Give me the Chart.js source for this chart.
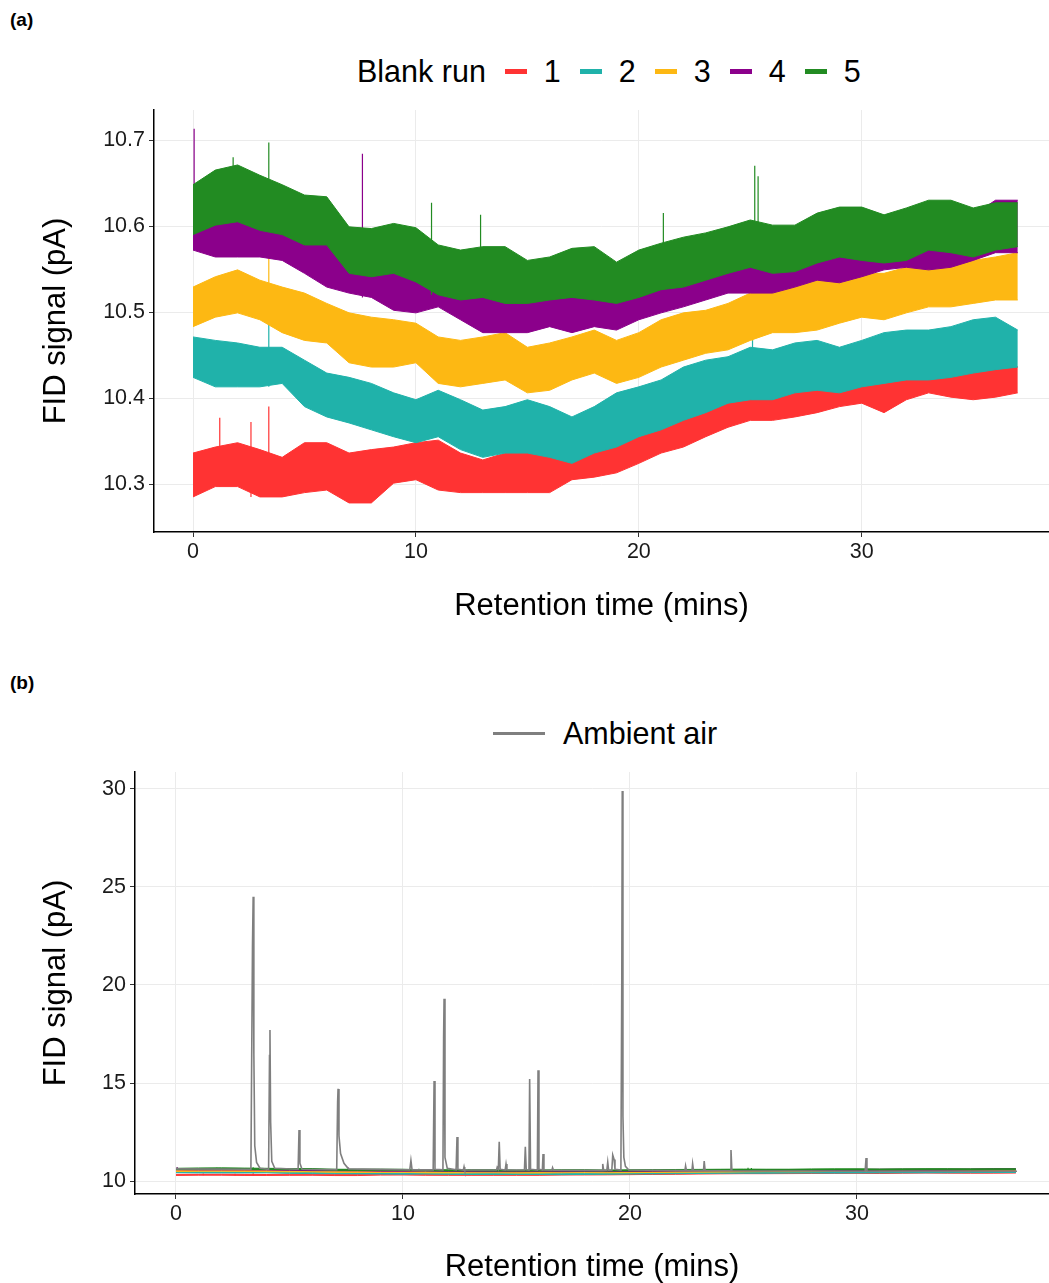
<!DOCTYPE html>
<html>
<head>
<meta charset="utf-8">
<script src="https://cdn.jsdelivr.net/npm/chart.js@4.4.1/dist/chart.umd.min.js"></script>
<style>
  body { margin: 0; background: #fff; font-family: "Liberation Sans", Arial, sans-serif; }
  #page { position: relative; width: 1049px; height: 1283px; overflow: hidden; }
  .tag { position: absolute; left: 10px; font-weight: bold; font-size: 19px; line-height: 20px; }
  .legend { position: absolute; display: flex; align-items: center; height: 40px; font-size: 30.5px; color: #000; }
  .key { display: inline-block; width: 22px; height: 5px; margin: 0 17px 0 19px; }
  .wrap { position: absolute; left: 0; width: 1049px; }
  canvas { display: block; }
</style>
</head>
<body>
<div id="page">
  <div class="tag" style="top:10px">(a)</div>
  <div class="legend" id="legendA" style="left:357px; top:51px"></div>
  <div class="wrap" style="top:0; height:640px"><canvas id="chartA" width="1049" height="640"></canvas></div>

  <div class="tag" style="top:673px">(b)</div>
  <div class="legend" style="left:493px; top:713px">
    <span style="display:inline-block;width:52px;height:3px;background:#7f7f7f;margin-right:18px"></span>Ambient air
  </div>
  <div class="wrap" style="top:640px; height:650px"><canvas id="chartB" width="1049" height="650"></canvas></div>
</div>

<script>
// minutes at which the noise band of each blank run was read
const runTimes = [0, 1, 2, 3, 4, 5, 6, 7, 8, 9, 10, 11, 12, 13, 14, 15, 16, 17, 18, 19,
  20, 21, 22, 23, 24, 25, 26, 27, 28, 29, 30, 31, 32, 33, 34, 35, 36, 37];

// lower / upper edge of the noise band (pA)
const run1Low = [10.285, 10.297, 10.297, 10.285, 10.285, 10.290, 10.293, 10.278, 10.278, 10.301,
  10.305, 10.293, 10.290, 10.290, 10.290, 10.290, 10.290, 10.305, 10.308, 10.313,
  10.324, 10.336, 10.343, 10.355, 10.366, 10.374, 10.374, 10.378, 10.383, 10.390,
  10.394, 10.383, 10.398, 10.406, 10.401, 10.398, 10.401, 10.406];
const run1High = [10.336, 10.343, 10.348, 10.340, 10.331, 10.348, 10.348, 10.336, 10.340, 10.343,
  10.348, 10.351, 10.336, 10.328, 10.336, 10.340, 10.336, 10.328, 10.340, 10.351,
  10.355, 10.366, 10.383, 10.398, 10.401, 10.409, 10.406, 10.413, 10.417, 10.413,
  10.417, 10.424, 10.433, 10.429, 10.433, 10.441, 10.444, 10.436];

const run2Low = [10.424, 10.413, 10.413, 10.413, 10.417, 10.390, 10.378, 10.371, 10.363, 10.355,
  10.348, 10.355, 10.340, 10.331, 10.336, 10.336, 10.331, 10.324, 10.336, 10.343,
  10.355, 10.363, 10.374, 10.383, 10.394, 10.398, 10.398, 10.406, 10.409, 10.406,
  10.413, 10.417, 10.421, 10.421, 10.424, 10.429, 10.433, 10.436];
const run2High = [10.471, 10.467, 10.464, 10.459, 10.459, 10.444, 10.429, 10.424, 10.417, 10.406,
  10.398, 10.409, 10.398, 10.386, 10.390, 10.398, 10.390, 10.378, 10.390, 10.406,
  10.413, 10.421, 10.436, 10.444, 10.448, 10.459, 10.456, 10.464, 10.467, 10.459,
  10.467, 10.476, 10.479, 10.479, 10.483, 10.491, 10.494, 10.479];

const run3Low = [10.483, 10.494, 10.499, 10.491, 10.476, 10.467, 10.464, 10.441, 10.436, 10.436,
  10.441, 10.417, 10.413, 10.417, 10.421, 10.406, 10.409, 10.421, 10.429, 10.417,
  10.424, 10.436, 10.444, 10.452, 10.456, 10.467, 10.476, 10.476, 10.479, 10.487,
  10.494, 10.491, 10.499, 10.506, 10.506, 10.510, 10.514, 10.514];
const run3High = [10.529, 10.541, 10.549, 10.537, 10.529, 10.522, 10.510, 10.499, 10.494, 10.491,
  10.487, 10.471, 10.467, 10.471, 10.476, 10.459, 10.464, 10.471, 10.479, 10.467,
  10.476, 10.491, 10.499, 10.502, 10.510, 10.522, 10.526, 10.529, 10.537, 10.541,
  10.545, 10.545, 10.552, 10.557, 10.560, 10.560, 10.564, 10.569];

const run4Low = [10.572, 10.564, 10.564, 10.564, 10.560, 10.545, 10.529, 10.522, 10.517, 10.502,
  10.499, 10.506, 10.491, 10.476, 10.476, 10.476, 10.483, 10.476, 10.483, 10.479,
  10.491, 10.499, 10.506, 10.514, 10.522, 10.522, 10.522, 10.529, 10.537, 10.534,
  10.541, 10.549, 10.552, 10.549, 10.552, 10.560, 10.569, 10.569];
const run4High = [10.624, 10.619, 10.619, 10.616, 10.613, 10.598, 10.584, 10.574, 10.570, 10.555,
  10.551, 10.558, 10.543, 10.528, 10.528, 10.528, 10.535, 10.528, 10.535, 10.531,
  10.543, 10.551, 10.558, 10.566, 10.574, 10.574, 10.574, 10.581, 10.590, 10.586,
  10.593, 10.601, 10.605, 10.601, 10.605, 10.613, 10.630, 10.630];

const run5Low = [10.590, 10.601, 10.605, 10.595, 10.590, 10.578, 10.578, 10.545, 10.541, 10.545,
  10.535, 10.520, 10.514, 10.517, 10.510, 10.510, 10.514, 10.517, 10.514, 10.510,
  10.517, 10.526, 10.529, 10.537, 10.545, 10.552, 10.545, 10.547, 10.557, 10.564,
  10.560, 10.557, 10.560, 10.572, 10.569, 10.564, 10.572, 10.576];
const run5High = [10.648, 10.665, 10.671, 10.659, 10.648, 10.636, 10.634, 10.599, 10.597, 10.603,
  10.598, 10.578, 10.572, 10.576, 10.576, 10.560, 10.564, 10.574, 10.576, 10.558,
  10.572, 10.580, 10.587, 10.592, 10.599, 10.607, 10.601, 10.601, 10.615, 10.622,
  10.622, 10.613, 10.621, 10.630, 10.630, 10.621, 10.627, 10.627];

// single-point spikes sticking out of the bands
const run1SpikeTimes = [1.2, 2.6, 3.4];
const run1SpikeTops = [10.377, 10.372, 10.390];
const run2SpikeTimes = [3.4, 25.1];
const run2SpikeTops = [10.510, 10.506];
const run3SpikeTimes = [3.4, 25.1];
const run3SpikeTops = [10.590, 10.560];
const run4SpikeTimes = [0.05, 7.6, 25.2];
const run4SpikeTops = [10.713, 10.684, 10.593];
const run5SpikeTimes = [1.8, 3.4, 10.7, 12.9, 21.1, 25.2, 25.35];
const run5SpikeTops = [10.680, 10.697, 10.627, 10.613, 10.615, 10.670, 10.658];

// ambient air chromatogram, grouped peak by peak
const ambientTime = [
  0, 3.30,
  3.37, 3.40, 3.43, 3.47, 3.55, 3.70,
  4.08, 4.12, 4.14, 4.17, 4.22, 4.35,
  5.38, 5.42, 5.46, 5.55,
  7.08, 7.12, 7.14, 7.18, 7.25, 7.40, 7.60,
  10.30, 10.35, 10.40,
  11.33, 11.37, 11.41,
  11.76, 11.79, 11.81, 11.85, 11.95,
  12.34, 12.38, 12.42,
  12.66, 12.69, 12.72,
  14.12, 14.15, 14.20, 14.24, 14.28,
  14.50, 14.54, 14.58,
  15.35, 15.39, 15.43,
  15.55, 15.58, 15.62,
  15.92, 15.95, 15.99,
  16.14, 16.17, 16.21,
  16.56, 16.59, 16.63,
  18.77, 18.80, 18.84,
  18.98, 19.02, 19.06,
  19.20, 19.24, 19.30, 19.34,
  19.60, 19.64, 19.66, 19.69, 19.73, 19.80, 19.95,
  22.42, 22.45, 22.49,
  22.73, 22.76, 22.80,
  23.24, 23.27, 23.31,
  24.41, 24.45, 24.49,
  30.36, 30.40, 30.44,
  37.05
];
const ambientSignal = [
  10.62, 10.60,
  22.0, 24.5, 16.5, 11.8, 10.95, 10.65,
  10.60, 16.4, 17.7, 13.0, 11.0, 10.65,
  10.60, 12.6, 10.9, 10.60,
  10.58, 14.0, 14.7, 12.3, 11.4, 10.9, 10.62,
  10.57, 11.05, 10.57,
  10.57, 15.1, 10.6,
  10.57, 17.3, 19.3, 11.2, 10.65,
  10.57, 12.25, 10.6,
  10.56, 10.72, 10.56,
  10.56, 10.7, 10.6, 12.0, 10.6,
  10.56, 10.87, 10.56,
  10.56, 11.75, 10.57,
  10.56, 15.2, 10.6,
  10.56, 15.65, 10.6,
  10.56, 11.38, 10.56,
  10.55, 10.68, 10.55,
  10.54, 10.87, 10.54,
  10.55, 10.97, 10.55,
  10.55, 11.33, 11.1, 10.6,
  10.56, 20.5, 29.9, 13.3, 11.2, 10.75, 10.56,
  10.53, 10.77, 10.53,
  10.53, 10.88, 10.53,
  10.53, 11.02, 10.53,
  10.52, 11.58, 10.52,
  10.50, 11.17, 10.50,
  10.50
];

const runLabels = ["1", "2", "3", "4", "5"];
const runColors = ["#FF3333", "#20B2AA", "#FDB813", "#8B008B", "#228B22"];
const xTicks = [0, 10, 20, 30];
const yTicksA = [10.3, 10.4, 10.5, 10.6, 10.7];
const yTicksB = [10, 15, 20, 25, 30];

const runs = [
  { low: run1Low, high: run1High, spikeTimes: run1SpikeTimes, spikeTops: run1SpikeTops },
  { low: run2Low, high: run2High, spikeTimes: run2SpikeTimes, spikeTops: run2SpikeTops },
  { low: run3Low, high: run3High, spikeTimes: run3SpikeTimes, spikeTops: run3SpikeTops },
  { low: run4Low, high: run4High, spikeTimes: run4SpikeTimes, spikeTops: run4SpikeTops },
  { low: run5Low, high: run5High, spikeTimes: run5SpikeTimes, spikeTops: run5SpikeTops },
];

const FONT = "'Liberation Sans', Arial, sans-serif";

function bandDatasets(run, color, order, lineWidth) {
  const lowData = runTimes.map((t, i) => ({ x: t, y: run.low[i] }));
  const highData = runTimes.map((t, i) => ({ x: t, y: run.high[i] }));
  const spikeData = [];
  run.spikeTimes.forEach((t, i) => {
    spikeData.push({ x: t, y: run.low[Math.round(t)] }, { x: t, y: run.spikeTops[i] }, { x: t, y: null });
  });
  return [
    { data: lowData, borderColor: color, borderWidth: lineWidth, pointRadius: 0, fill: false, order },
    { data: highData, borderColor: color, backgroundColor: color, borderWidth: lineWidth, pointRadius: 0, fill: "-1", order },
    { data: spikeData, borderColor: color, borderWidth: 1.2, pointRadius: 0, fill: false, spanGaps: false, order },
  ];
}

function axisX(min, max, height, titleBottom) {
  return {
    type: "linear",
    min,
    max,
    afterBuildTicks: (s) => { s.ticks = xTicks.map((v) => ({ value: v })); },
    afterFit: (s) => { s.height = height; },
    grid: { color: "#EBEBEB", lineWidth: 1, tickLength: 5, tickColor: "#333" },
    border: { color: "#000", width: 1.5 },
    ticks: { font: { size: 21.5, family: FONT }, color: "#1a1a1a", padding: 2, maxRotation: 0 },
    title: { display: true, text: "Retention time (mins)", font: { size: 31, family: FONT }, color: "#000", padding: { top: 0, bottom: titleBottom } },
  };
}

function axisY(min, max, tickValues, width, digits) {
  return {
    min,
    max,
    afterBuildTicks: (s) => { s.ticks = tickValues.map((v) => ({ value: v })); },
    afterFit: (s) => { s.width = width; },
    grid: { color: "#EBEBEB", lineWidth: 1, tickLength: 5, tickColor: "#333" },
    border: { color: "#000", width: 1.5 },
    ticks: { font: { size: 21.5, family: FONT }, color: "#1a1a1a", padding: 4, callback: (v) => Number(v).toFixed(digits) },
    title: { display: true, text: "FID signal (pA)", font: { size: 31, family: FONT }, color: "#000", padding: { top: 38, bottom: 0 } },
  };
}

function renderLegendA() {
  const host = document.getElementById("legendA");
  host.innerHTML = "<span>Blank run</span>";
  runLabels.forEach((label, i) => {
    const key = document.createElement("span");
    key.className = "key";
    key.style.background = runColors[i];
    const text = document.createElement("span");
    text.textContent = label;
    host.append(key, text);
  });
}

function renderChartA() {
  const datasets = [];
  runs.forEach((run, i) => datasets.push(...bandDatasets(run, runColors[i], 5 - i, 1)));

  new Chart(document.getElementById("chartA"), {
    type: "line",
    data: { datasets },
    options: {
      responsive: false,
      animation: false,
      layout: { padding: { top: 110, left: 0, right: 0, bottom: 0 } },
      plugins: { legend: { display: false }, tooltip: { enabled: false } },
      scales: { x: axisX(-1.75, 38.4, 108, 15), y: axisY(10.2442, 10.7349, yTicksA, 154, 1) },
    },
  });
}

function renderChartB() {
  const datasets = [];
  runs.forEach((run, i) => datasets.push(...bandDatasets(run, runColors[i], 6 - i, 1)));
  datasets.push({
    data: ambientTime.map((t, i) => ({ x: t, y: ambientSignal[i] })),
    borderColor: "#7f7f7f",
    borderWidth: 1.6,
    pointRadius: 0,
    fill: false,
    order: 0,
  });

  new Chart(document.getElementById("chartB"), {
    type: "line",
    data: { datasets },
    options: {
      responsive: false,
      animation: false,
      layout: { padding: { top: 132, left: 0, right: 0, bottom: 0 } },
      plugins: { legend: { display: false }, tooltip: { enabled: false } },
      scales: { x: axisX(-1.806, 38.46, 96, 4), y: axisY(9.337, 30.867, yTicksB, 135, 0) },
    },
  });
}

renderLegendA();
renderChartA();
renderChartB();
</script>
</body>
</html>
